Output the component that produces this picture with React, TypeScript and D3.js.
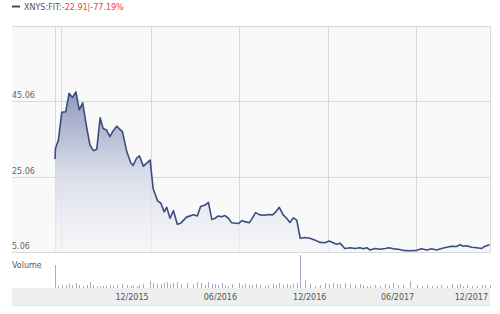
import React from "react";
import * as d3 from "d3";

const priceDates: string[] = [
  "2015-06-18","2015-06-19","2015-06-25","2015-07-02","2015-07-10","2015-07-17","2015-07-24","2015-07-31",
  "2015-08-07","2015-08-14","2015-08-22","2015-08-29","2015-09-05","2015-09-12","2015-09-19","2015-09-25",
  "2015-10-02","2015-10-09","2015-10-16","2015-10-23","2015-11-04","2015-11-13","2015-11-21","2015-11-26",
  "2015-12-03","2015-12-09","2015-12-17","2015-12-31","2016-01-06","2016-01-15","2016-01-22","2016-01-29",
  "2016-02-03","2016-02-10","2016-02-17","2016-02-25","2016-03-03","2016-03-15","2016-03-29","2016-04-06",
  "2016-04-13","2016-04-22","2016-04-29","2016-05-06","2016-05-13","2016-05-19","2016-05-26","2016-06-02",
  "2016-06-09","2016-06-16","2016-06-30","2016-07-07","2016-07-13","2016-07-22","2016-07-27","2016-08-04",
  "2016-08-13","2016-08-24","2016-08-30","2016-09-08","2016-09-15","2016-09-22","2016-09-30","2016-10-07",
  "2016-10-14","2016-10-21","2016-10-28","2016-11-04","2016-11-14","2016-11-24","2016-12-05","2016-12-15",
  "2016-12-25","2017-01-03","2017-01-11","2017-01-18","2017-01-25","2017-02-04","2017-02-15","2017-02-25",
  "2017-03-07","2017-03-14","2017-03-21","2017-03-28","2017-04-07","2017-04-17","2017-04-28","2017-05-06",
  "2017-05-15","2017-05-25","2017-06-04","2017-06-18","2017-07-02","2017-07-12","2017-07-23","2017-08-02",
  "2017-08-12","2017-08-22","2017-09-02","2017-09-12","2017-09-22","2017-09-29","2017-10-06","2017-10-13",
  "2017-10-23","2017-11-03","2017-11-13","2017-11-20","2017-11-29"
];

const closePrices: number[] = [
  29.7,32.5,34.7,42.1,42.2,47.1,46.0,47.5,
  42.7,44.6,38.3,33.4,31.9,32.3,40.6,37.8,
  37.4,35.6,37.2,38.4,36.9,31.6,28.7,28.0,
  29.9,30.5,27.8,29.4,21.9,18.7,18.0,15.7,
  16.9,14.0,16.0,12.4,12.7,14.3,14.9,14.6,
  17.1,17.5,18.2,13.7,14.0,14.6,14.4,14.7,
  14.0,12.8,12.6,13.4,13.1,12.8,13.7,15.5,
  14.9,14.8,15.0,14.9,15.7,16.9,14.9,14.0,
  12.9,14.1,13.5,8.7,8.9,8.7,8.2,7.6,
  7.5,7.97,7.5,7.1,7.4,6.0,6.2,6.0,
  6.2,5.9,6.2,5.6,6.0,5.8,6.0,6.2,
  5.9,5.8,5.5,5.4,5.5,5.9,5.6,5.9,
  5.6,6.0,6.3,6.6,6.5,7.0,6.6,6.7,
  6.3,6.2,6.0,6.6,7.0
];

const volumes: number[] = [
  46,8,4,6,6,8,6,10,6,4,6,12,6,4,4,4,4,6,4,6,8,6,4,6,4,6,8,14,10,8,8,10,
  12,8,10,12,8,10,8,12,10,6,12,8,8,6,10,6,4,8,10,6,8,6,6,8,6,4,6,8,6,10,
  6,8,6,8,10,66,16,8,4,6,10,8,10,8,8,10,8,6,8,6,4,4,6,4,8,6,10,6,6,14,
  6,4,6,4,4,6,4,8,6,8,4,6,4,4,6,6,6
];

const yTicks: number[] = [5.06, 25.06, 45.06];
const xTickDates: string[] = ["2016-01-01", "2016-07-01", "2017-01-01", "2017-07-01", "2018-01-01"];
const xTickLabels: string[] = ["12/2015", "06/2016", "12/2016", "06/2017", "12/2017"];
const extraGridDates: string[] = ["2015-07-01"];

const titleSymbol = "XNYS:FIT:";
const titleChange = "-22.91|-77.19%";

export default function App() {
  const W = 500, H = 314;
  const left = 12, right = 490, top = 26, bottom = 252;
  const dataLeft = 55;
  const volTop = 255, volBottom = 288;
  const bandBottom = 305;
  const parse = d3.timeParse("%Y-%m-%d");
  const data = priceDates.map((d, i) => ({ date: parse(d) as Date, v: closePrices[i], vol: volumes[i] }));

  const x = d3.scaleTime()
    .domain([parse("2015-06-18") as Date, parse("2017-11-30") as Date])
    .range([dataLeft, right]);
  const y = d3.scaleLinear().domain([5.06, 65.06]).range([bottom, bottom - 60 * 3.775]);
  const yv = d3.scaleLinear().domain([0, 66]).range([volBottom, volTop]);

  const line = d3.line<any>().x(d => x(d.date)).y(d => y(d.v));
  const area = d3.area<any>().x(d => x(d.date)).y0(bottom).y1(d => y(d.v));

  const font = "'DejaVu Sans', Verdana, sans-serif";
  const grid = "#d9d9d9";

  return (
    <svg width={W} height={H} style={{ position: "absolute", left: 0, top: 0, background: "#fff" }}>
      <defs>
        <linearGradient id="fillGrad" x1="0" y1="0" x2="0" y2="1" gradientUnits="userSpaceOnUse"
          x1={0} y1={y(47.5)} x2={0} y2={bottom}>
          <stop offset="0%" stopColor="#8893b8" stopOpacity={0.95} />
          <stop offset="50%" stopColor="#d5d9e6" stopOpacity={0.9} />
          <stop offset="100%" stopColor="#f4f5f8" stopOpacity={0.6} />
        </linearGradient>
      </defs>
      {/* title */}
      <line x1={12} x2={20} y1={6.5} y2={6.5} stroke="#3b4d80" strokeWidth={2} />
      <text x={24} y={9.5} fontFamily={font} fontSize={8} fill="#555">
        {titleSymbol}
        <tspan fill="#e8414e">{titleChange}</tspan>
      </text>
      {/* plot background */}
      <rect x={left} y={top} width={right - left} height={bottom - top} fill="#f9f9fa" />
      <line x1={left} x2={right} y1={top + 0.5} y2={top + 0.5} stroke={grid} />
      <line x1={right + 0.5} x2={right + 0.5} y1={top} y2={bottom} stroke={grid} />
      {yTicks.map(t => (
        <g key={t}>
          <line x1={left} x2={right} y1={Math.round(y(t)) + 0.5} y2={Math.round(y(t)) + 0.5} stroke={grid} />
          <text x={left} y={y(t) - 3} fontFamily={font} fontSize={8} fill="#666">{t.toFixed(2)}</text>
        </g>
      ))}
      <line x1={dataLeft + 0.5} x2={dataLeft + 0.5} y1={top} y2={bottom} stroke={grid} />
      {extraGridDates.concat(xTickDates).map(d => {
        const xx = x(parse(d) as Date);
        if (xx > right) return null;
        return <line key={d} x1={Math.round(xx) + 0.5} x2={Math.round(xx) + 0.5} y1={top} y2={bottom} stroke={grid} />;
      })}
      {/* price area + line */}
      <path d={area(data) || ""} fill="url(#fillGrad)" />
      <path d={line(data) || ""} fill="none" stroke="#3b4d80" strokeWidth={1.6} strokeLinejoin="round" />
      {/* volume */}
      <text x={left} y={268} fontFamily={font} fontSize={8} fill="#555">Volume</text>
      {data.map((d, i) => (
        <line key={i} x1={Math.round(x(d.date)) + 0.5} x2={Math.round(x(d.date)) + 0.5}
          y1={volBottom} y2={yv(d.vol)} stroke="#a3abc6" strokeWidth={1} />
      ))}
      <rect x={left} y={volBottom} width={right - left} height={bandBottom - volBottom} fill="#eeeeef" />
      <line x1={left} x2={right} y1={bandBottom + 0.5} y2={bandBottom + 0.5} stroke="#e2e2e2" />
      {xTickDates.map((d, i) => {
        const xx = Math.min(x(parse(d) as Date), right);
        return (
          <text key={d} x={xx - 2} y={300} textAnchor="end" fontFamily={font} fontSize={8} fill="#555">
            {xTickLabels[i]}
          </text>
        );
      })}
    </svg>
  );
}
